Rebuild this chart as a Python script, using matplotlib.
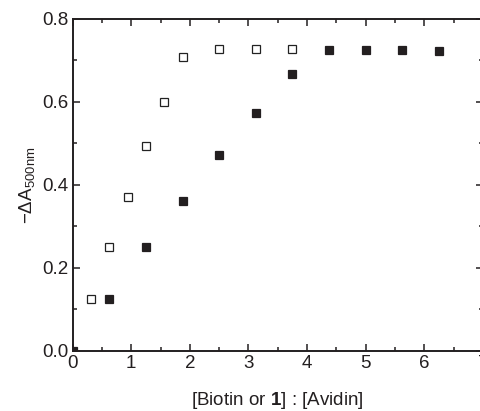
import matplotlib
matplotlib.use("Agg")
import matplotlib.pyplot as plt
from matplotlib.ticker import MultipleLocator

plt.rcParams['font.family'] = ['Liberation Sans', 'DejaVu Sans']
plt.rcParams['mathtext.fontset'] = 'custom'
plt.rcParams['mathtext.rm'] = 'Liberation Sans'
plt.rcParams['mathtext.it'] = 'Liberation Sans'
plt.rcParams['mathtext.bf'] = 'Liberation Sans:bold'

# Data
open_x = [0.3125, 0.625, 0.9375, 1.25, 1.5625, 1.875, 2.5, 3.125, 3.75]
open_y = [0.125, 0.25, 0.372, 0.493, 0.600, 0.708, 0.728, 0.728, 0.728]
filled_x = [0.0, 0.625, 1.25, 1.875, 2.5, 3.125, 3.75, 4.375, 5.0, 5.625, 6.25]
filled_y = [0.0, 0.125, 0.25, 0.362, 0.473, 0.574, 0.667, 0.725, 0.725, 0.725, 0.723]

fig = plt.figure(figsize=(4.81, 4.11), dpi=100)
ax = fig.add_axes([0.151, 0.146, 1.004 - 0.151, 0.954 - 0.146])

ax.plot(open_x, open_y, linestyle='none', marker='s', markersize=6.3,
        markerfacecolor='white', markeredgecolor='#222222', markeredgewidth=0.9)
ax.plot(filled_x, filled_y, linestyle='none', marker='s', markersize=6.3,
        markerfacecolor='#231f20', markeredgecolor='#231f20', markeredgewidth=0.9)

ax.set_xlim(0, 7)
ax.set_ylim(0, 0.8)
ax.xaxis.set_major_locator(MultipleLocator(1))
ax.xaxis.set_minor_locator(MultipleLocator(0.5))
ax.yaxis.set_major_locator(MultipleLocator(0.2))
ax.yaxis.set_minor_locator(MultipleLocator(0.1))
ax.yaxis.set_major_formatter(matplotlib.ticker.FormatStrFormatter('%.1f'))

ax.tick_params(which='both', direction='in', top=True, right=True, colors='#231f20',
               labelsize=13.5, width=1.1)
ax.tick_params(which='major', length=5, pad=3)
ax.tick_params(which='minor', length=3)
for s in ax.spines.values():
    s.set_linewidth(1.4)
    s.set_color('#231f20')

ax.set_xlabel(r'[Biotin or $\mathbf{1}$] : [Avidin]', fontsize=13.5, labelpad=13, color='#231f20')
ax.set_ylabel(r'$\mathregular{-\Delta A_{500nm}}$', fontsize=13.5, labelpad=4, color='#231f20')

fig.savefig('out.png', dpi=100)
